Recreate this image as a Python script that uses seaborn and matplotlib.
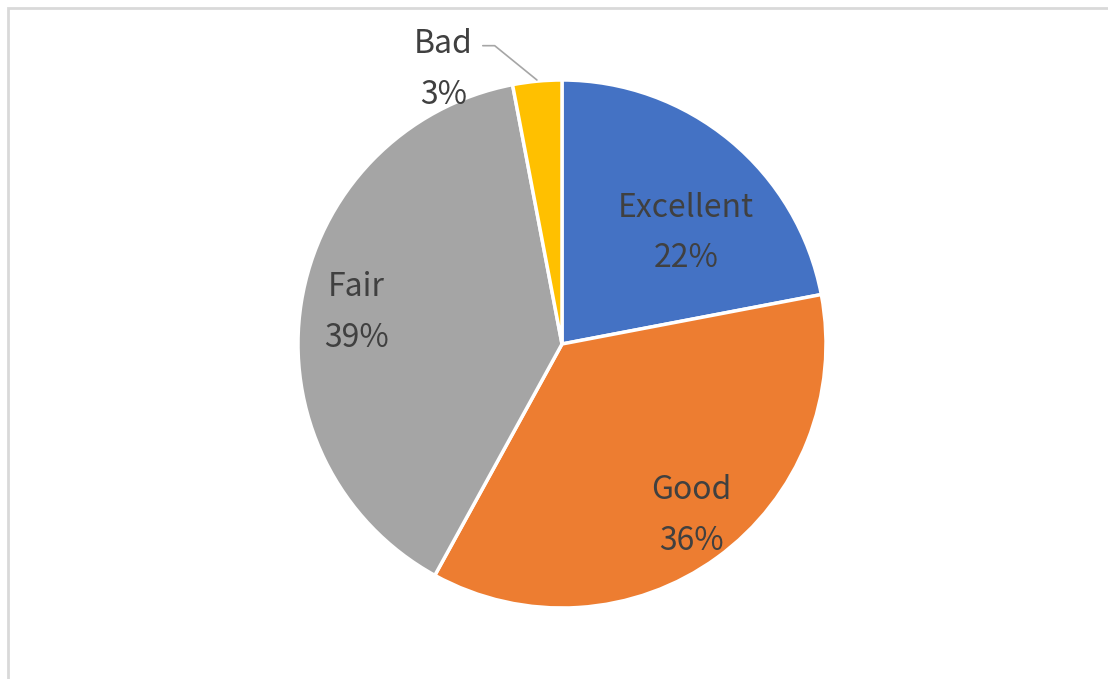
import matplotlib
matplotlib.use("Agg")
import matplotlib.pyplot as plt
import seaborn as sns
from matplotlib.patches import Rectangle

sns.set_theme(style="white")
plt.rcParams['font.family'] = ['Noto Sans CJK SC', 'DejaVu Sans']

# data
categories = ["Excellent", "Good", "Fair", "Bad"]
shares = [22, 36, 39, 3]
colors = ["#4472C4", "#ED7D31", "#A5A5A5", "#FFC000"]

# label placement (in pie radius units)
label_pos = [(0.47, 0.42), (0.49, -0.65), (-0.78, 0.12), (-0.45, 1.04)]

W, H = 1108, 679
fig = plt.figure(figsize=(W / 100, H / 100), dpi=100)
fig.patch.set_facecolor("white")

# light frame of the chart area (cropped screenshot)
fig.add_artist(Rectangle((8 / W, -0.05), 1.2, 1 - 8 / H + 0.05, transform=fig.transFigure,
                         fill=False, edgecolor="#D9D9D9", linewidth=2))

cx, cy, r = 562, 344, 264
ax = fig.add_axes([(cx - r) / W, (H - cy - r) / H, 2 * r / W, 2 * r / H])
wedges, _ = ax.pie(shares, colors=colors, startangle=90, counterclock=False,
                   wedgeprops=dict(edgecolor="white", linewidth=2.5))
ax.set_xlim(-1, 1)
ax.set_ylim(-1, 1)
ax.set_aspect("equal")
ax.axis("off")

for cat, val, (x, y) in zip(categories, shares, label_pos):
    ax.text(x, y, f"{cat}\n{val}%", ha="center", va="center", fontsize=23,
            fontweight="light", color="#404040", linespacing=1.75, clip_on=False)

# leader line for the small slice
ax.plot([-0.30, -0.255, -0.095], [1.13, 1.13, 1.0], color="#A6A6A6", linewidth=1.2, clip_on=False)

fig.savefig("out.png", dpi=100, facecolor="white")
